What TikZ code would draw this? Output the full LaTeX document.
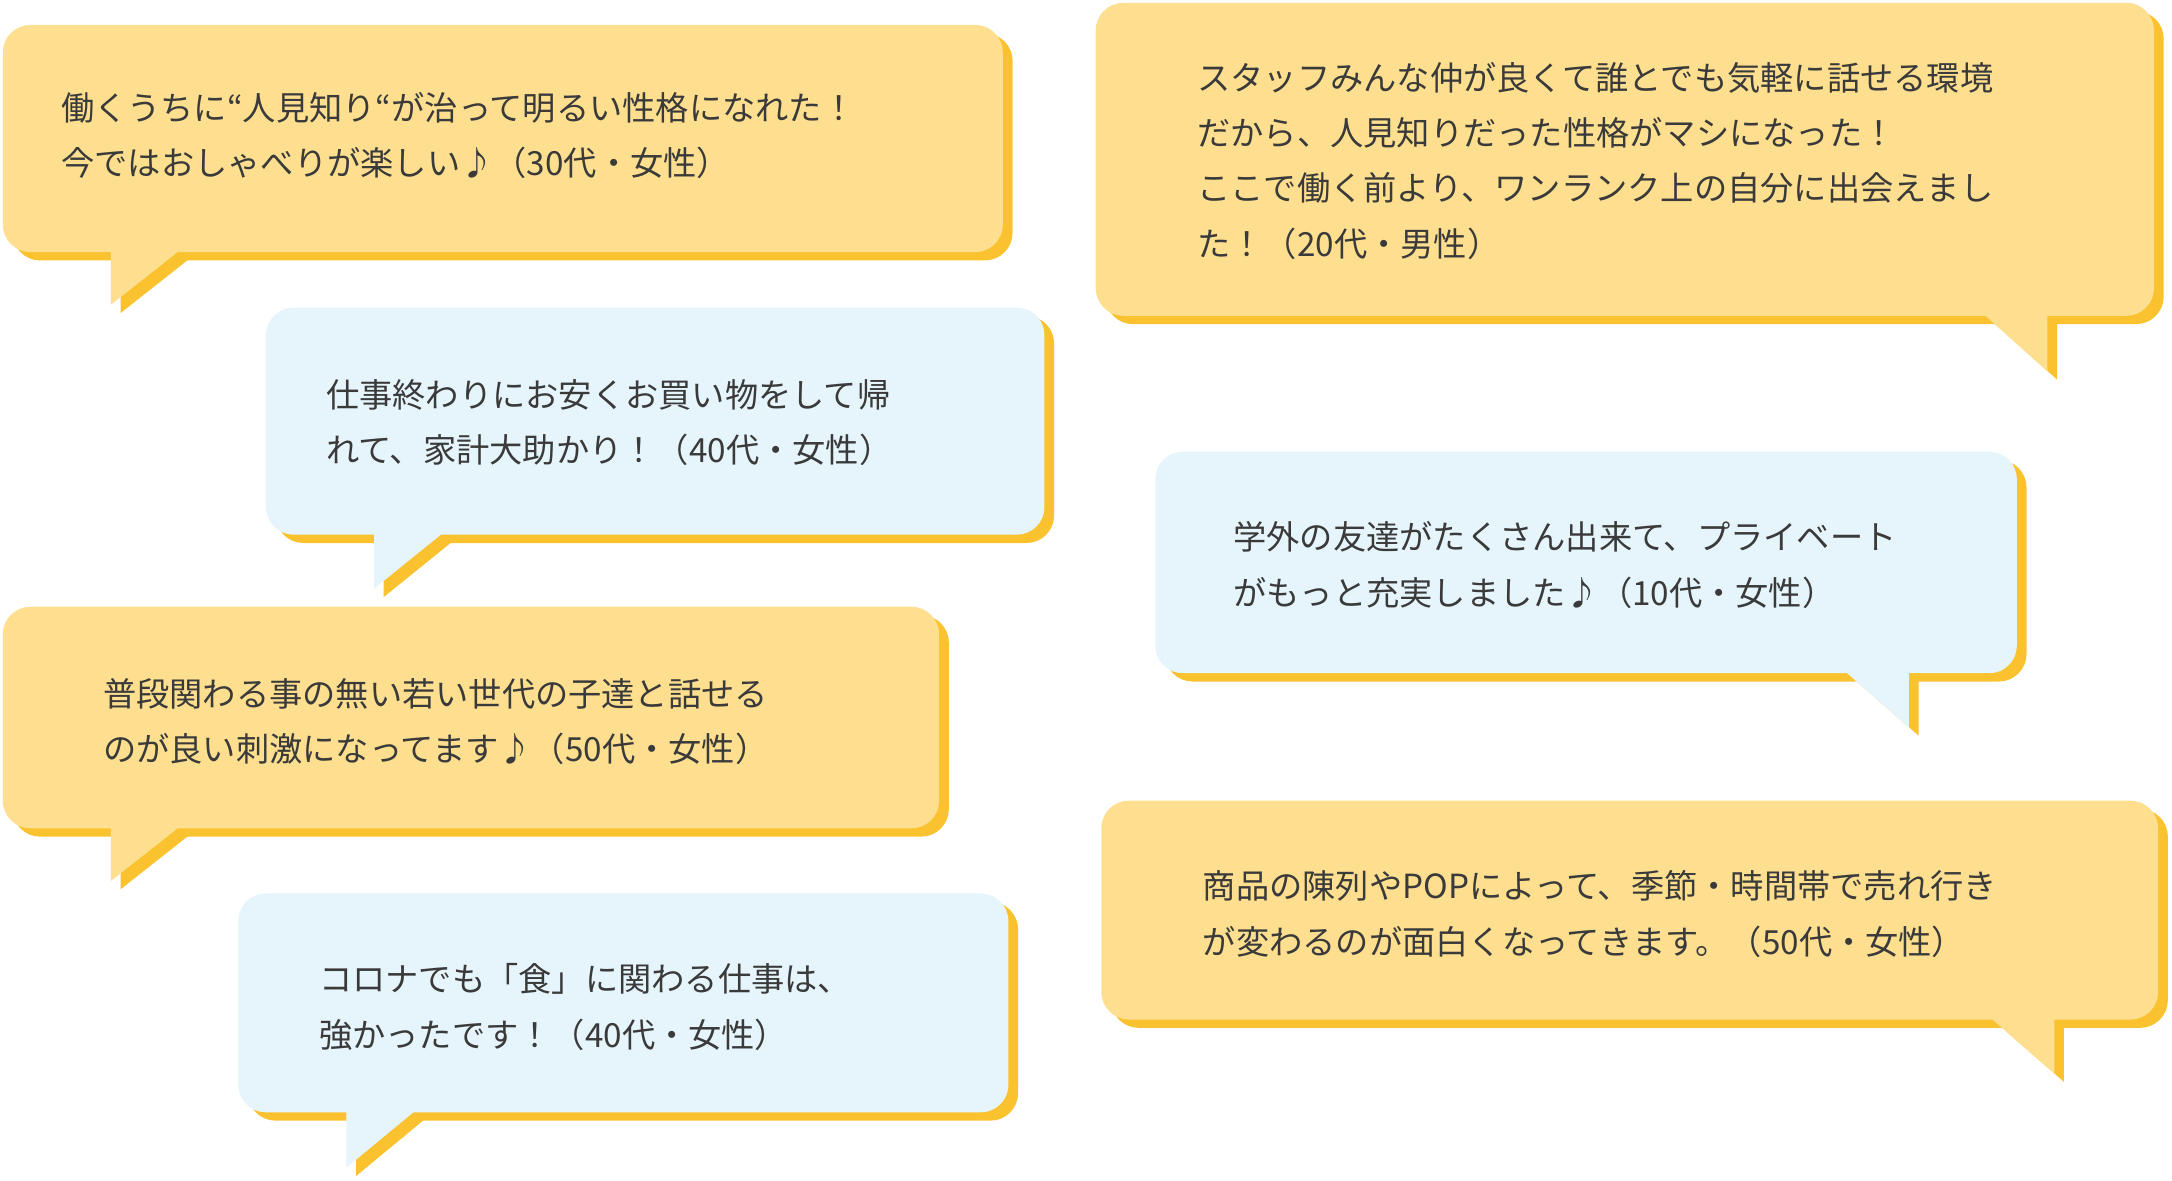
\documentclass[tikz,border=0pt]{standalone}
\usepackage{fontspec}
\setmainfont{Noto Sans CJK JP}
\definecolor{yel}{HTML}{FDDF8F}
\definecolor{blu}{HTML}{E6F5FB}
\definecolor{shd}{HTML}{F9C22E}
\definecolor{txt}{HTML}{3A3A3A}
\tikzset{txtnode/.style={anchor=west,align=left,inner sep=0pt,text=txt,font=\fontsize{12pt}{20pt}\selectfont}}
% #1 x1, #2 y1, #3 x2, #4 y2, #5 tail x, #6 tail bottom, #7 fill, #8 L/R
\newcommand{\bubL}[7]{%
  \begin{scope}[shift={(7,6)}]
  \fill[shd,rounded corners=10pt] (#1,#2) rectangle (#3,#4);
  \fill[shd] (#5,#4-3) -- (#5,#6) -- (#5+52,#4-3) -- cycle;
  \end{scope}
  \fill[#7,rounded corners=10pt] (#1,#2) rectangle (#3,#4);
  \fill[#7] (#5,#4-3) -- (#5,#6) -- (#5+52,#4-3) -- cycle;}
\newcommand{\bubR}[7]{%
  \begin{scope}[shift={(7,6)}]
  \fill[shd,rounded corners=10pt] (#1,#2) rectangle (#3,#4);
  \fill[shd] (#5,#4-3) -- (#5+48,#6) -- (#5+48,#4-3) -- cycle;
  \end{scope}
  \fill[#7,rounded corners=10pt] (#1,#2) rectangle (#3,#4);
  \fill[#7] (#5,#4-3) -- (#5+48,#6) -- (#5+48,#4-3) -- cycle;}
\begin{document}
\begin{tikzpicture}[x=0.5pt,y=-0.5pt]
\useasboundingbox (0,0) rectangle (1568,852);
\bubL{2}{18}{724}{182}{80}{220}{yel}
\node[txtnode] (t1) at (44,98) {働くうちに“人見知り“が治って明るい性格になれた！\\今ではおしゃべりが楽しい♪（30代・女性）};
\bubL{192}{222}{754}{386}{270}{425}{blu}
\node[txtnode] (t2) at (235,305) {仕事終わりにお安くお買い物をして帰\\れて、家計大助かり！（40代・女性）};
\bubL{2}{438}{678}{598}{80}{636}{yel}
\node[txtnode] (t3) at (74,521) {普段関わる事の無い若い世代の子達と話せる\\のが良い刺激になってます♪（50代・女性）};
\bubL{172}{645}{728}{803}{250}{843}{blu}
\node[txtnode] (t4) at (230,727) {コロナでも「食」に関わる仕事は、\\強かったです！（40代・女性）};
\bubR{791}{2}{1555}{228}{1430}{268}{yel}
\node[txtnode] (t5) at (864,116) {スタッフみんな仲が良くて誰とでも気軽に話せる環境\\だから、人見知りだった性格がマシになった！\\ここで働く前より、ワンランク上の自分に出会えまし\\た！（20代・男性）};
\bubR{834}{326}{1456}{486}{1330}{525}{blu}
\node[txtnode] (t6) at (890,408) {学外の友達がたくさん出来て、プライベート\\がもっと充実しました♪（10代・女性）};
\bubR{795}{578}{1558}{736}{1435}{775}{yel}
\node[txtnode] (t7) at (868,660) {商品の陳列やPOPによって、季節・時間帯で売れ行き\\が変わるのが面白くなってきます。（50代・女性）};
\end{tikzpicture}
\end{document}
